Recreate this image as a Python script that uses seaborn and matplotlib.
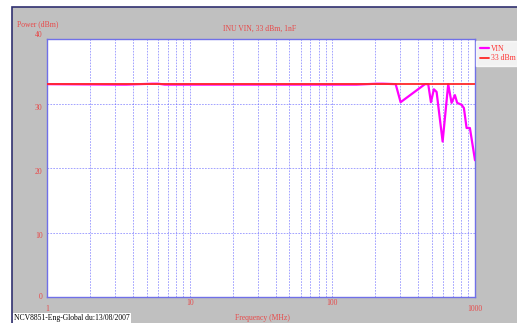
import numpy as np
import pandas as pd
import seaborn as sns
import matplotlib.pyplot as plt
from matplotlib.patches import Rectangle

# VIN trace (MHz, dBm)
freq = [1, 3.1, 3.6, 5.5, 6.0, 6.7, 7.9, 17, 21, 48, 82, 106, 148, 205, 226, 278,
        301, 446, 470, 491, 515, 538, 593, 649, 685, 723, 750, 805, 836, 873, 921, 1000]
vin = [33.0, 32.93, 32.93, 33.07, 33.07, 32.93, 32.93, 32.93, 32.93, 32.93, 32.93, 32.93, 32.93, 33.07, 33.07, 33.0,
       30.2, 33.0, 33.0, 30.2, 32.2, 31.8, 24.1, 33.0, 30.1, 31.3, 30.1, 29.8, 29.3, 26.2, 26.2, 21.2]
ref_freq = [1, 1000]
ref_lvl = [33, 33]
yticks = [0, 10, 20, 30, 40]
xticks = [1, 10, 100, 1000]
xlabels = ['1', '10', '100', '1000']

df_vin = pd.DataFrame({'f': freq, 'p': vin})
df_ref = pd.DataFrame({'f': ref_freq, 'p': ref_lvl})

sns.set_theme(style='white')
plt.rcParams['font.family'] = ['Liberation Serif', 'DejaVu Serif']
red = '#e84848'
grey = '#c0c0c0'

fig = plt.figure(figsize=(5.17, 3.23), dpi=100)
fig.patch.set_facecolor('white')
bg = Rectangle((12 / 517, -0.01), 1.0, (323 - 7) / 323 + 0.01, transform=fig.transFigure,
               facecolor=grey, edgecolor='#303070', linewidth=1.2)
bg.set_zorder(-10)
fig.patches.append(bg)

ax = fig.add_axes([47 / 517, 26 / 323, 428 / 517, 258 / 323])
ax.set_zorder(1)
ax.set_facecolor('white')
sns.lineplot(data=df_vin, x='f', y='p', ax=ax, color='#ff00ff', linewidth=1.6, label='VIN', zorder=3)
sns.lineplot(data=df_ref, x='f', y='p', ax=ax, color='#ff2828', linewidth=1.3, label='33 dBm', zorder=4)
ax.set_xscale('log')
ax.set_xlim(1, 1000)
ax.set_ylim(0, 40)

# grid
grid_kw = dict(color='#5a5aff', linewidth=0.6, linestyle=(0, (2, 1.5)), alpha=0.65, zorder=1)
for dec in [1, 10, 100]:
    for m in range(2, 11):
        if dec * m < 1000:
            ax.axvline(dec * m, **grid_kw)
for yv in [10, 20, 30]:
    ax.axhline(yv, **grid_kw)

for s in ax.spines.values():
    s.set_color('#7070e8')
    s.set_linewidth(1.0)

ax.set_xticks([])
ax.set_yticks([])
ax.minorticks_off()
ax.set_xlabel('')
ax.set_ylabel('')

fs = 5.5
# y tick labels
ytr = ax.get_yaxis_transform()
for yv in yticks:
    va = 'top' if yv in (10, 20, 30) else ('bottom' if yv == 40 else 'center')
    ax.text(-0.01, yv, str(yv), transform=ytr, ha='right', va=va, color=red, fontsize=fs)
# x tick labels
xtr = ax.get_xaxis_transform()
for xv, lb in zip(xticks, xlabels):
    yoff = -0.03 if xv in (1, 1000) else -0.008
    ax.text(xv, yoff, lb, transform=xtr, ha='center', va='top', color=red, fontsize=fs)

fig.text(17 / 517, 1 - 24 / 323, 'Power (dBm)', color=red, fontsize=fs, ha='left', va='center')
fig.text(260 / 517, 1 - 29 / 323, 'INU VIN, 33 dBm, 1nF', color=red, fontsize=fs, ha='center', va='center')
fig.text(262 / 517, 1 - 318 / 323, 'Frequency (MHz)', color=red, fontsize=fs, ha='center', va='center')
fig.text(14 / 517, 1 - 318 / 323, 'NCV8851-Eng-Global du:13/08/2007', color='black', fontsize=fs,
         ha='left', va='center', bbox=dict(facecolor='white', edgecolor='none', pad=0.8))

ax.get_legend().remove()
h, l = ax.get_legend_handles_labels()
leg = fig.legend(h, l, loc='upper left', bbox_to_anchor=(476 / 517, 1 - 41 / 323), frameon=True,
                 fontsize=fs, handlelength=1.2, handletextpad=0.3, borderpad=0.5,
                 labelspacing=0.2, fancybox=False, borderaxespad=0)
leg.get_frame().set_facecolor('white')
leg.get_frame().set_edgecolor('white')
for t in leg.get_texts():
    t.set_color('#ff3030')

fig.savefig('out.png', dpi=100)
